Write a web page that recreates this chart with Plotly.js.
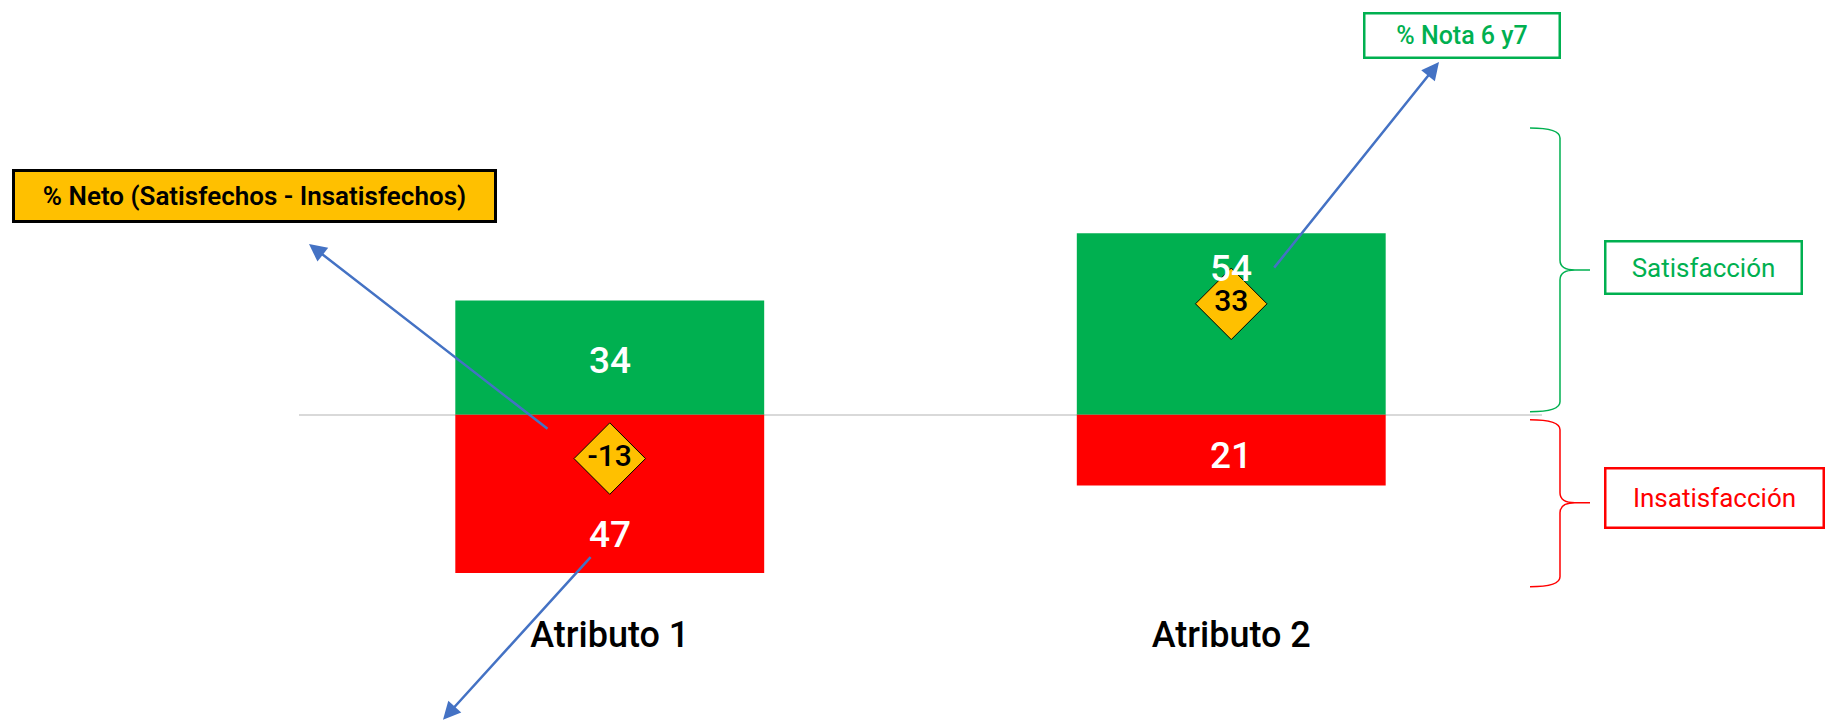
<!DOCTYPE html>
<html>
<head>
<meta charset="utf-8">
<script src="https://cdn.plot.ly/plotly-3.0.1.min.js"></script>
<style>html,body{margin:0;padding:0;background:#fff;}#chart{width:1826px;height:721px;}</style>
</head>
<body>
<div id="chart"></div>
<script>
// ---- data ----
const categories = ["Atributo 1", "Atributo 2"];
const satisfechos = [34, 54];
const insatisfechos = [47, 21];
const neto = [-13, 33];

// ---- layout geometry (pixels) ----
const W = 1826, H = 721;
const PL = 299, PR = 284, PT = 213;
const ZERO_Y = 415, K = 3.367;          // zero line pixel, px per unit
const Y_MAX = (ZERO_Y - PT) / K;
const Y_MIN = -58;
const PBOT = ZERO_Y - Y_MIN * K;
const PB = H - PBOT;
const PW = W - PL - PR, PH = PBOT - PT;
const px = x => (x - PL) / PW;
const py = y => (PBOT - y) / PH;

const GREEN = "#00B050", RED = "#FF0000", GOLD = "#FFC000", BLUE = "#4472C4";
const FONT = "Roboto";

// label placement as fraction of bar length
const satLabelFrac = [0.5, 0.82];
const insLabelFrac = [0.745, 0.55];

const traces = [
  {type: "bar", x: categories, y: satisfechos, marker: {color: GREEN}, hoverinfo: "skip", name: "Satisfacción"},
  {type: "bar", x: categories, y: insatisfechos.map(v => -v), marker: {color: RED}, hoverinfo: "skip", name: "Insatisfacción"},
  {type: "scatter", mode: "markers+text", x: categories, y: neto,
   text: neto.map(String), textposition: "middle center",
   textfont: {family: FONT, size: 30, color: "#000", weight: 500},
   marker: {symbol: "diamond", size: 55, color: GOLD, line: {color: "#000", width: 1}},
   hoverinfo: "skip", name: "% Neto"}
];

const annotations = [];
categories.forEach((c, i) => {
  annotations.push({x: c, y: satisfechos[i] * satLabelFrac[i], xref: "x", yref: "y", yshift: -3,
    text: String(satisfechos[i]), showarrow: false,
    font: {family: FONT, size: 37, color: "#fff", weight: 500}});
  annotations.push({x: c, y: -insatisfechos[i] * insLabelFrac[i], xref: "x", yref: "y", yshift: -2,
    text: String(insatisfechos[i]), showarrow: false,
    font: {family: FONT, size: 37, color: "#fff", weight: 500}});
});

// arrows (head px, tail px)
function arrow(hx, hy, tx, ty) {
  return {x: px(hx), y: py(hy), xref: "paper", yref: "paper", text: "",
    showarrow: true, arrowhead: 2, arrowsize: 1.4, arrowwidth: 2.5, arrowcolor: BLUE,
    ax: tx - hx, ay: ty - hy, standoff: 0, startstandoff: 0};
}
annotations.push(arrow(309, 244, 549, 430));
annotations.push(arrow(443, 720, 592, 556));
annotations.push(arrow(1439, 62, 1273, 269));

// boxes
function box(cx, cy, w, h, text, opts) {
  return {x: px(cx), y: py(cy), xref: "paper", yref: "paper",
    xanchor: "center", yanchor: "middle", showarrow: false, text: text,
    width: w - 2 * opts.bw, height: h - 2 * opts.bw, borderpad: 0,
    borderwidth: opts.bw, bordercolor: opts.border, bgcolor: opts.bg,
    font: {family: FONT, size: opts.size, color: opts.color, weight: opts.weight}};
}
annotations.push(box(254, 196, 485, 54, "% Neto (Satisfechos - Insatisfechos)",
  {bw: 3, border: "#000", bg: GOLD, size: 26, color: "#000", weight: 600}));
annotations.push(box(1462, 35, 198, 47, "% Nota 6 y7",
  {bw: 2.5, border: GREEN, bg: "#fff", size: 25, color: GREEN, weight: 500}));
annotations.push(box(1703.5, 267.5, 199, 55, "Satisfacción",
  {bw: 2.5, border: GREEN, bg: "#fff", size: 26, color: GREEN, weight: 400}));
annotations.push(box(1714.5, 498.5, 221, 62, "Insatisfacción",
  {bw: 2.5, border: RED, bg: "#fff", size: 26, color: RED, weight: 400}));

// braces
function brace(xl, xs, xt, top, mid, bot) {
  const P = (x, y) => px(x).toFixed(5) + "," + py(y).toFixed(5);
  const r = 10;
  return "M" + P(xl, top) + " Q" + P(xs, top) + " " + P(xs, top + r) +
    " L" + P(xs, mid - r) + " Q" + P(xs, mid) + " " + P(xs + 15, mid) +
    " L" + P(xt, mid) + " M" + P(xs + 15, mid) + " Q" + P(xs, mid) + " " + P(xs, mid + r) +
    " L" + P(xs, bot - r) + " Q" + P(xs, bot) + " " + P(xl, bot);
}
const shapes = [
  {type: "path", xref: "paper", yref: "paper", path: brace(1530, 1560, 1590, 128, 270, 412),
   line: {color: GREEN, width: 1.5}},
  {type: "path", xref: "paper", yref: "paper", path: brace(1530, 1560, 1590, 420, 503, 587),
   line: {color: RED, width: 1.5}}
];

const layout = {
  width: W, height: H,
  margin: {l: PL, r: PR, t: PT, b: PB, pad: 0},
  paper_bgcolor: "#fff", plot_bgcolor: "#fff",
  barmode: "relative", bargap: 0.503,
  showlegend: false,
  xaxis: {type: "category", range: [-0.5, 1.5], showgrid: false, showline: false, ticks: "",
    zeroline: false, tickfont: {family: FONT, size: 36, color: "#000", weight: 500}, fixedrange: true},
  yaxis: {range: [Y_MIN, Y_MAX], showgrid: false, showticklabels: false, ticks: "",
    zeroline: true, zerolinecolor: "#D9D9D9", zerolinewidth: 2, fixedrange: true},
  annotations: annotations,
  shapes: shapes,
  font: {family: FONT}
};

Plotly.newPlot("chart", traces, layout, {staticPlot: true, displayModeBar: false});
</script>
</body>
</html>
